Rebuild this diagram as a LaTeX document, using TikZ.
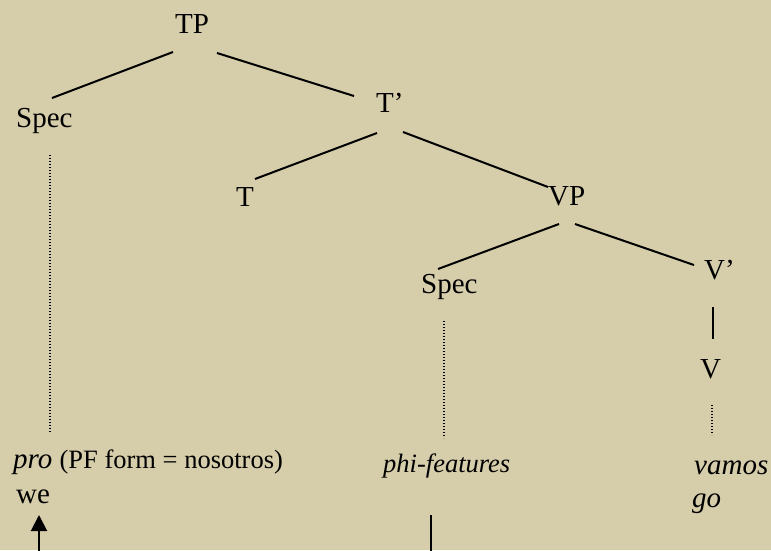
\documentclass[tikz,border=0pt]{standalone}
\usepackage{fontspec}
\setmainfont{Liberation Serif}
\usepackage{tikz}
\usetikzlibrary{arrows.meta}
\usetikzlibrary{positioning}
\definecolor{paper}{RGB}{214,205,170}
\tikzstyle{word} = [inner sep=0pt, anchor=base west, font=\fontsize{29}{35}\selectfont]
\tikzstyle{gloss} = [inner sep=0pt, anchor=base west, font=\fontsize{26.5}{32}\selectfont\itshape]
\tikzstyle{branch} = [line width=2pt]
\tikzstyle{trace} = [line width=1.3pt, dash pattern=on 1pt off 2pt]
\tikzstyle{input} = [coordinate]

\begin{document}
\begin{tikzpicture}[x=1pt, y=-1pt]
    \fill [paper] (0,0) rectangle (771,550);
    \useasboundingbox (0,0) rectangle (771,550);

    % tree
    \node [word] at (175,33) (tp) {TP};
    \node [word] at (16,127) (spec1) {Spec};
    \node [word] at (376,112) (tbar) {T’};
    \node [word] at (236,206) (t) {T};
    \node [word] at (548,205) (vp) {VP};
    \node [word] at (421,293) (spec2) {Spec};
    \node [word] at (704,279) (vbar) {V’};
    \node [word] at (700,378) (v) {V};

    % bottom line
    \node [word] at (13,468) (pro) {\textit{pro} {\fontsize{26.5}{32}\selectfont (PF form = nosotros)}};
    \node [word] at (16,503) (we) {we};
    \node [gloss] at (383,472) (phi) {phi-features};
    \node [word] at (694,474) (vamos) {\textit{vamos}};
    \node [word] at (692,507) (go) {\textit{go}};

    \node [input, name=weroot] at (39,551) {};
    \node [input, name=phiroot] at (431,551) {};

    \draw [branch] ([shift={(-2,19)}]tp.base west) -- ([shift={(36,-29)}]spec1.base west);
    \draw [branch] ([shift={(42,20)}]tp.base west) -- ([shift={(-22,-16)}]tbar.base west);
    \draw [branch] ([shift={(1,21)}]tbar.base west) -- ([shift={(19,-27)}]t.base west);
    \draw [branch] ([shift={(27,20)}]tbar.base west) -- ([shift={(0,-18)}]vp.base west);
    \draw [branch] ([shift={(11,19)}]vp.base west) -- ([shift={(17,-24)}]spec2.base west);
    \draw [branch] ([shift={(27,19)}]vp.base west) -- ([shift={(-10,-14)}]vbar.base west);
    \draw [branch] ([shift={(9,28)}]vbar.base west) -- ([shift={(13,-39)}]v.base west);

    \draw [trace] ([shift={(34,28)}]spec1.base west) -- ([shift={(37,-35)}]pro.base west);
    \draw [trace] ([shift={(23,28)}]spec2.base west) -- ([shift={(61,-34)}]phi.base west);
    \draw [trace] ([shift={(12,27)}]v.base west) -- ([shift={(18,-39)}]vamos.base west);

    \draw [branch, -{Triangle[width=16pt,length=16pt]}] (weroot) -- ([shift={(23,12)}]we.base west);
    \draw [branch] ([shift={(48,43)}]phi.base west) -- (phiroot);
\end{tikzpicture}
\end{document}
